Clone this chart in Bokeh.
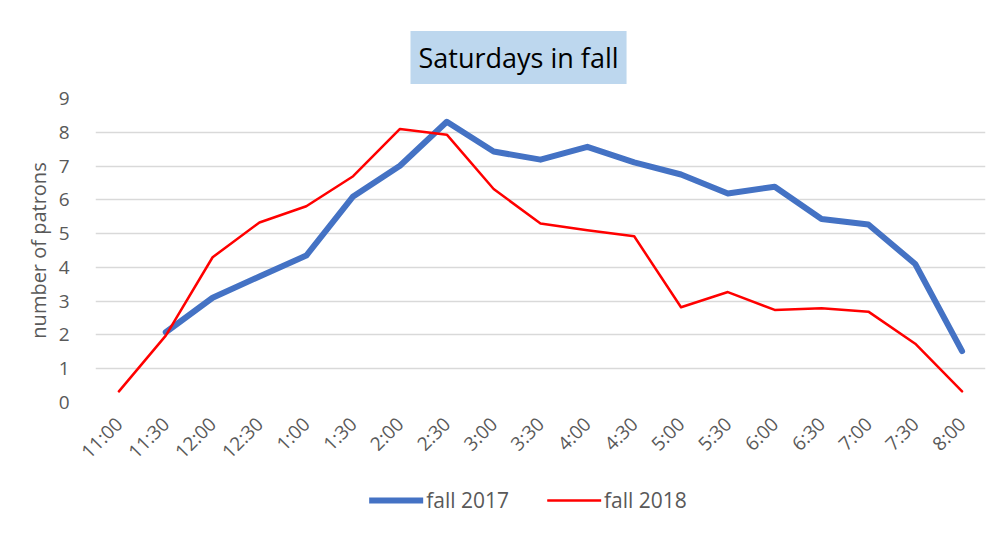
import math
from bokeh.plotting import figure
from bokeh.models import Legend, LegendItem, FactorRange, Range1d
from bokeh.layouts import column
from bokeh.embed import file_html
from bokeh.resources import INLINE

categories = ["11:00", "11:30", "12:00", "12:30", "1:00", "1:30", "2:00", "2:30", "3:00", "3:30",
              "4:00", "4:30", "5:00", "5:30", "6:00", "6:30", "7:00", "7:30", "8:00"]
fall_2017 = [None, 2.08, 3.1, 3.73, 4.35, 6.1, 7.01, 8.31, 7.43, 7.19,
             7.57, 7.11, 6.75, 6.19, 6.39, 5.43, 5.27, 4.1, 1.52]
fall_2018 = [0.33, 1.98, 4.3, 5.33, 5.81, 6.7, 8.1, 7.93, 6.32, 5.3,
             5.1, 4.92, 2.82, 3.27, 2.74, 2.79, 2.69, 1.74, 0.33]
series_names = ["fall 2017", "fall 2018"]
y_ticks = list(range(0, 10))

FONT = "Open Sans"
GREY = "#595959"
BLUE = "#4472C4"
RED = "#FF0000"

p = figure(frame_width=890, frame_height=304, x_range=FactorRange(*categories), y_range=Range1d(0, 9),
           output_backend="svg", toolbar_location=None, title="Saturdays in fall",
           min_border_left=95, min_border_right=15, min_border_top=98, min_border_bottom=78)
p.outline_line_color = None
p.background_fill_color = "white"
p.border_fill_color = "white"

p.title.align = "left"
p.title.offset = 315
p.title.text_font = FONT
p.title.text_font_size = "27px"
p.title.text_font_style = "normal"
p.title.text_color = "black"
p.title.background_fill_color = "#BDD7EE"
p.title.padding = 8
p.title.standoff = 29

x17 = [c for c, v in zip(categories, fall_2017) if v is not None]
y17 = [v for v in fall_2017 if v is not None]
p.line(x17, y17, line_color=BLUE, line_width=6, line_join="round", line_cap="round")
p.line(categories, fall_2018, line_color=RED, line_width=2.5, line_join="round", line_cap="round")

p.xgrid.grid_line_color = None
p.ygrid.grid_line_color = "#D9D9D9"
p.ygrid.grid_line_width = 1.5
p.yaxis.ticker = y_ticks

for ax in (p.xaxis, p.yaxis):
    ax.axis_line_color = None
    ax.major_tick_line_color = None
    ax.minor_tick_line_color = None
    ax.major_label_text_font = FONT
    ax.major_label_text_font_size = "19px"
    ax.major_label_text_color = GREY

p.xaxis.major_label_orientation = math.pi / 4
p.xaxis.major_label_standoff = 12
p.yaxis.axis_label = "number of patrons"
p.yaxis.axis_label_text_font = FONT
p.yaxis.axis_label_text_font_size = "20px"
p.yaxis.axis_label_text_font_style = "normal"
p.yaxis.axis_label_text_color = GREY
p.yaxis.axis_label_standoff = 4
p.yaxis.major_label_standoff = 20

# legend strip below the chart (series drawn out of view, only their legend glyphs show)
p2 = figure(width=976, height=63, output_backend="svg", toolbar_location=None,
            x_range=FactorRange(*categories), y_range=Range1d(100, 101),
            x_axis_location=None, y_axis_location=None,
            min_border_left=0, min_border_right=0, min_border_top=0, min_border_bottom=0)
p2.outline_line_color = None
p2.grid.grid_line_color = None
l17 = p2.line(x17, y17, line_color=BLUE, line_width=6, line_cap="round")
l18 = p2.line(categories, fall_2018, line_color=RED, line_width=2.5, line_cap="round")

legend = Legend(items=[LegendItem(label=series_names[0], renderers=[l17]),
                       LegendItem(label=series_names[1], renderers=[l18])],
                orientation="horizontal", location="top_center",
                label_text_font=FONT, label_text_font_size="21px", label_text_color=GREY,
                glyph_width=54, label_standoff=3, spacing=38, border_line_color=None,
                background_fill_alpha=0, padding=4, margin=6)
p2.add_layout(legend)

layout = column(p, p2, spacing=0)
open("out.html", "w").write(file_html(layout, INLINE))
